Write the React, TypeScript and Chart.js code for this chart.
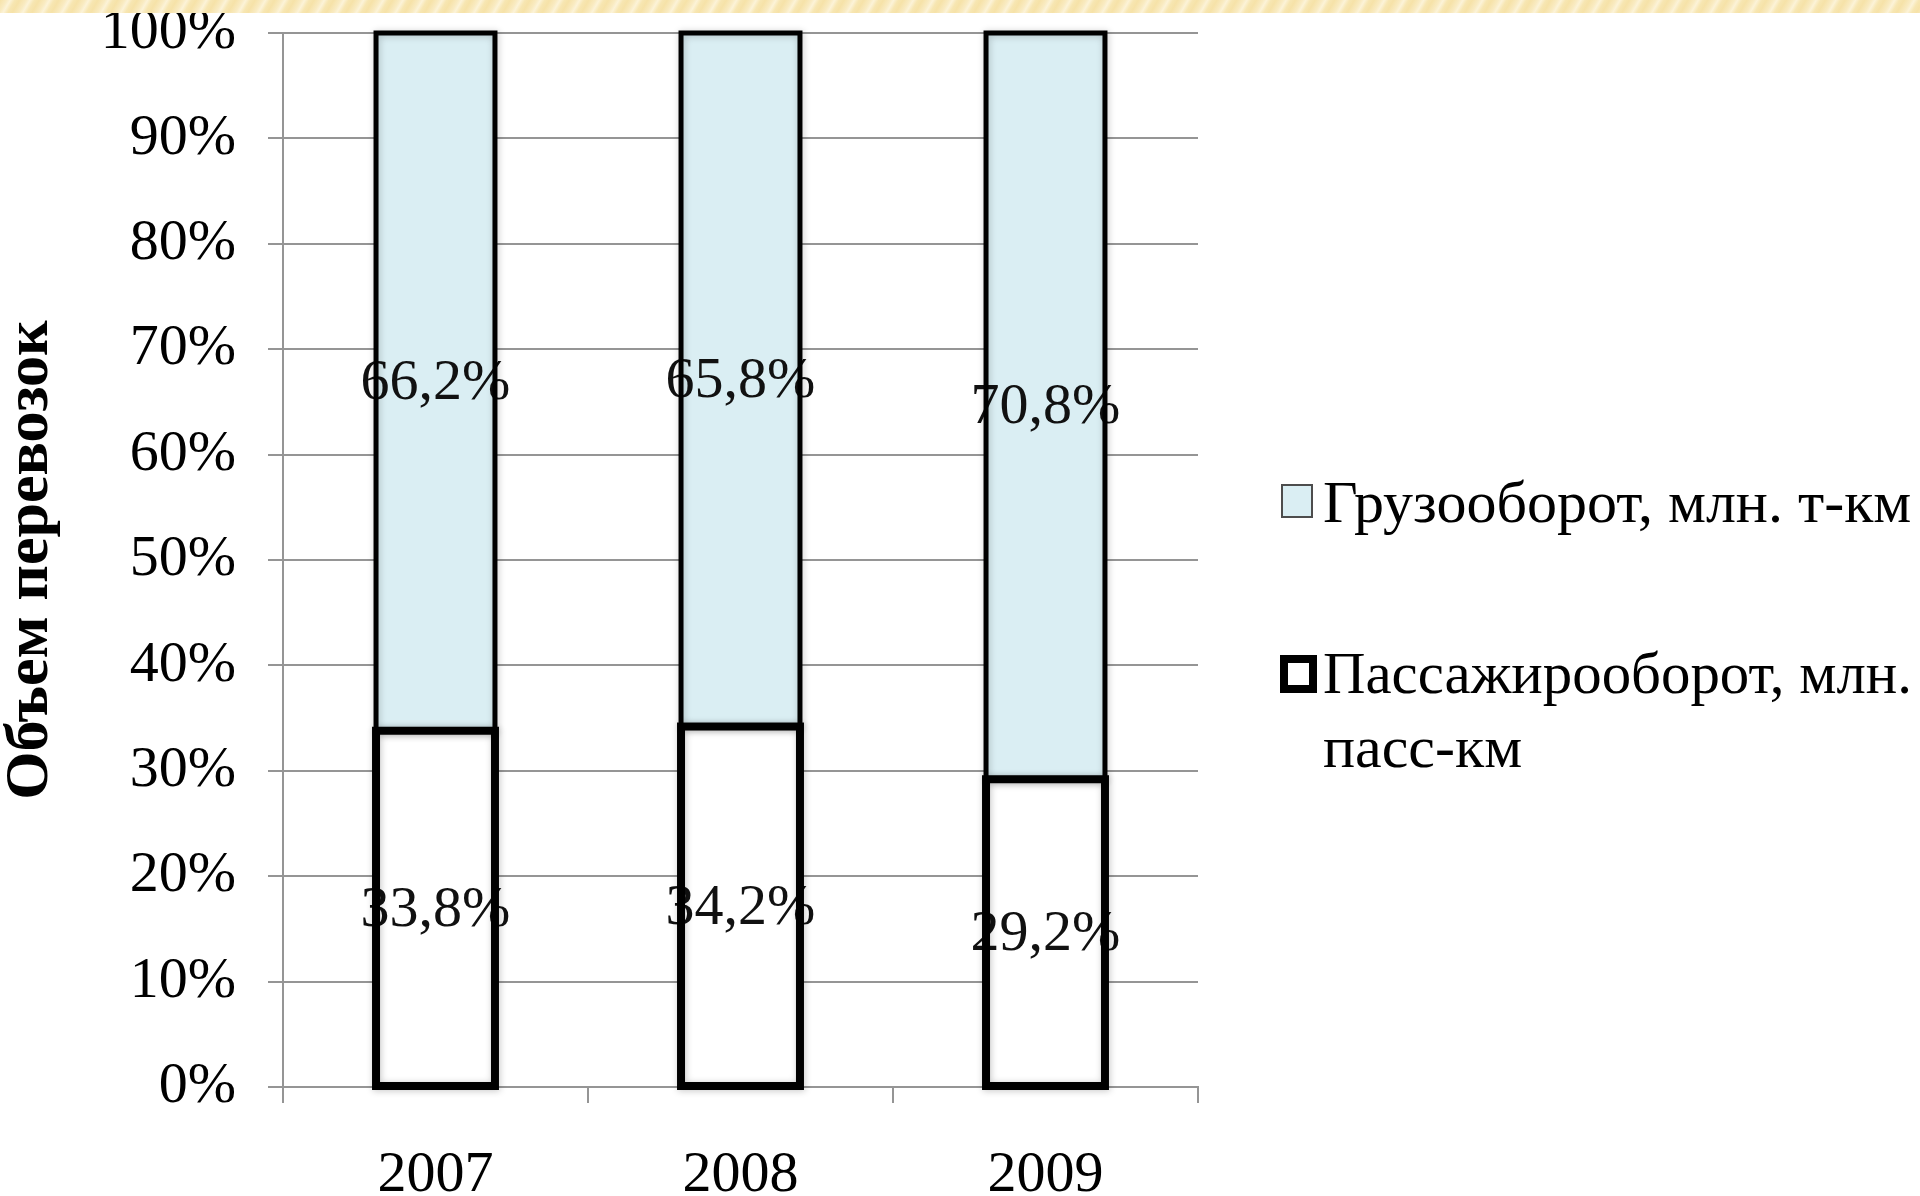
import { useEffect, useRef } from 'react';
import { Chart, registerables } from 'chart.js';

Chart.register(...registerables);

// Shares of total transport work by year, percent
const years = ['2007', '2008', '2009'];
const passengerShare = [33.8, 34.2, 29.2];
const freightShare = [66.2, 65.8, 70.8];

const passengerName = 'Пассажирооборот, млн. пасс-км';
const passengerLegendLines = ['Пассажирооборот, млн.', 'пасс-км'];
const freightName = 'Грузооборот, млн. т-км';
const axisTitle = 'Объем перевозок';

const SERIF = '"Liberation Serif", "Times New Roman", serif';
const FONT_SIZE = 58;
const GRID = '#959595';
const FREIGHT_FILL = '#DAEEF3';
const PASSENGER_FILL = '#FFFFFF';
// outline widths: passenger (bottom) segment, freight (top) segment
const OUTLINE = [8, 5];

const W = 1920;
const H = 1196;
const PLOT = { left: 283, top: 33, right: 1198, bottom: 1087 };

const fmt = (v: number) => v.toFixed(1).replace('.', ',') + '%';

// Value labels sit over the fills, then the outlines are stroked over the labels
const barOverlay = {
  id: 'barOverlay',
  afterDatasetsDraw(chart: any) {
    const ctx = chart.ctx as CanvasRenderingContext2D;
    ctx.save();
    ctx.font = `${FONT_SIZE}px ${SERIF}`;
    ctx.fillStyle = '#111';
    ctx.textAlign = 'center';
    ctx.textBaseline = 'middle';
    chart.data.datasets.forEach((ds: any, di: number) => {
      const meta = chart.getDatasetMeta(di);
      meta.data.forEach((bar: any, i: number) => {
        const { x, y, base } = bar.getProps(['x', 'y', 'base'], true);
        ctx.fillText(fmt(ds.data[i]), x, (y + base) / 2 + 2);
      });
    });
    ctx.strokeStyle = '#000';
    ctx.shadowColor = 'rgba(0,0,0,0.22)';
    ctx.shadowBlur = 7;
    ctx.shadowOffsetX = 1;
    ctx.shadowOffsetY = 1;
    [1, 0].forEach((di) => {
      const meta = chart.getDatasetMeta(di);
      ctx.lineWidth = OUTLINE[di];
      meta.data.forEach((bar: any) => {
        const { x, y, base, width } = bar.getProps(['x', 'y', 'base', 'width'], true);
        ctx.strokeRect(x - width / 2, y, width, base - y);
      });
    });
    ctx.restore();
  },
};

// Legend to the right of the plot, with the passenger entry wrapped on two lines
const sideLegend = {
  id: 'sideLegend',
  afterDraw(chart: any) {
    const ctx = chart.ctx as CanvasRenderingContext2D;
    const left = chart.chartArea.right + 82;
    const textX = left + 43;
    const maxW = W - textX - 8;
    ctx.save();
    // freight swatch
    ctx.fillStyle = FREIGHT_FILL;
    ctx.fillRect(left + 2, 485, 30, 32);
    ctx.strokeStyle = '#4d4d4d';
    ctx.lineWidth = 2;
    ctx.strokeRect(left + 2, 485, 30, 32);
    // passenger swatch
    ctx.fillStyle = PASSENGER_FILL;
    ctx.fillRect(left + 4, 659, 29, 30);
    ctx.strokeStyle = '#000';
    ctx.lineWidth = 8;
    ctx.strokeRect(left + 4, 659, 29, 30);

    ctx.fillStyle = '#000';
    ctx.font = `60px ${SERIF}`;
    ctx.textAlign = 'left';
    ctx.textBaseline = 'alphabetic';
    ctx.fillText(freightName, textX, 522, maxW);
    ctx.fillText(passengerLegendLines[0], textX, 693, maxW);
    ctx.fillText(passengerLegendLines[1], textX, 767, maxW);
    ctx.restore();
  },
};

export default function App() {
  const canvasRef = useRef<HTMLCanvasElement | null>(null);

  useEffect(() => {
    const canvas = canvasRef.current;
    if (!canvas) return;
    const tickFont = { family: SERIF, size: FONT_SIZE, lineHeight: 1 };
    const chart = new Chart(canvas, {
      type: 'bar',
      data: {
        labels: years,
        datasets: [
          {
            label: passengerName,
            data: passengerShare,
            backgroundColor: PASSENGER_FILL,
            borderWidth: 0,
            barPercentage: 0.39,
            categoryPercentage: 1,
          },
          {
            label: freightName,
            data: freightShare,
            backgroundColor: FREIGHT_FILL,
            borderWidth: 0,
            barPercentage: 0.39,
            categoryPercentage: 1,
          },
        ],
      },
      options: {
        animation: false,
        responsive: false,
        devicePixelRatio: 1,
        layout: {
          padding: { left: 0, top: PLOT.top, right: W - PLOT.right, bottom: 0 },
        },
        plugins: {
          legend: { display: false },
          tooltip: { enabled: false },
        },
        scales: {
          x: {
            stacked: true,
            grid: {
              display: true,
              offset: true,
              drawOnChartArea: false,
              drawTicks: true,
              tickLength: 16,
              color: GRID,
              lineWidth: 2,
            },
            border: { display: true, color: GRID, width: 2 },
            ticks: { font: tickFont, color: '#000', padding: 44 },
            afterFit: (s: any) => {
              s.height = H - PLOT.bottom;
              s.paddingLeft = 0;
              s.paddingRight = 0;
            },
          },
          y: {
            stacked: true,
            min: 0,
            max: 100,
            ticks: {
              stepSize: 10,
              font: tickFont,
              color: '#000',
              padding: 32,
              callback: (v: any) => `${v}%`,
            },
            grid: { color: GRID, lineWidth: 2, tickLength: 15 },
            border: { display: true, color: GRID, width: 2 },
            title: {
              display: true,
              text: axisTitle,
              color: '#000',
              font: { family: SERIF, size: 62, weight: 'bold', lineHeight: 1 },
              padding: 0,
            },
            afterFit: (s: any) => {
              s.width = PLOT.left;
              s.paddingTop = 0;
              s.paddingBottom = 0;
            },
          },
        },
      },
      plugins: [barOverlay, sideLegend],
    } as any);
    return () => chart.destroy();
  }, []);

  return (
    <div
      style={{
        position: 'absolute',
        left: 0,
        top: 0,
        width: W,
        height: H,
        background: '#fff',
        overflow: 'hidden',
      }}
    >
      <canvas ref={canvasRef} width={W} height={H} style={{ display: 'block', width: W, height: H }} />
      <div
        style={{
          position: 'absolute',
          left: 0,
          top: 0,
          width: W,
          height: 13,
          background:
            'repeating-linear-gradient(120deg, #f6e2a8 0px, #f9ebc2 6px, #fcf3d8 9px, #f7e6b2 13px, #f6e2a8 17px)',
        }}
      />
    </div>
  );
}
